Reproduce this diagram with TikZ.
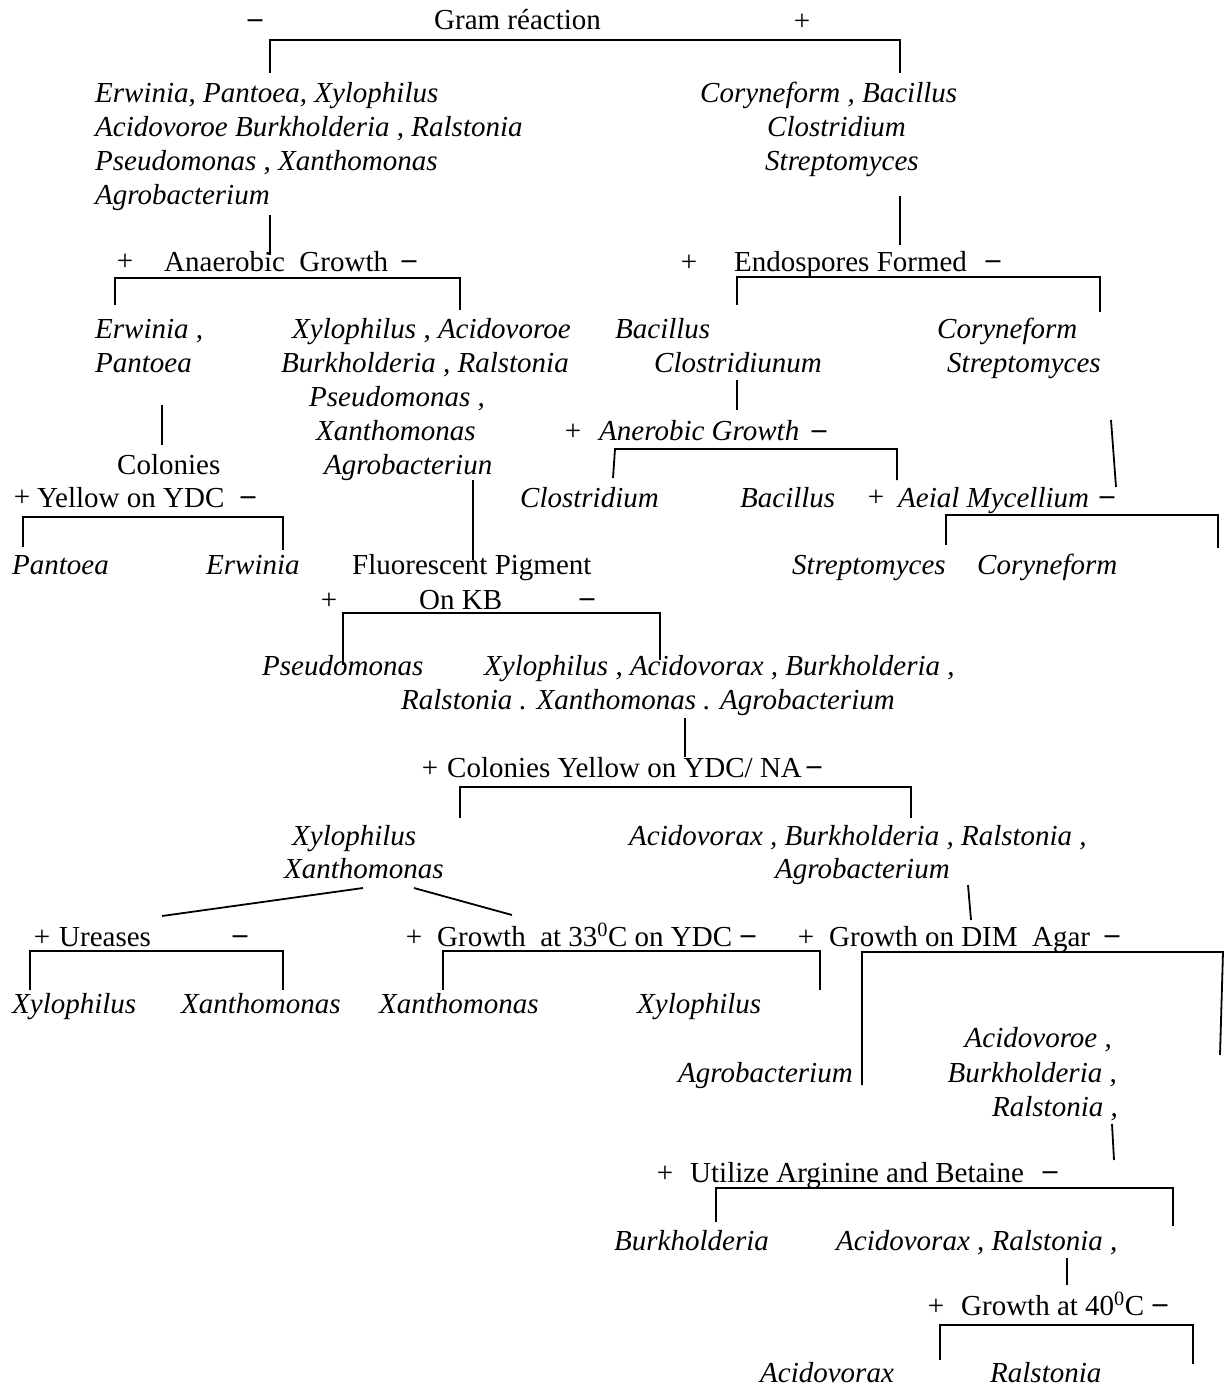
\documentclass[tikz,border=0pt]{standalone}
\usepackage{fontspec}
\setmainfont{Liberation Serif}
\newcommand\myfs{\fontsize{29}{34}\selectfont}
\begin{document}
\begin{tikzpicture}[x=1pt,y=-1pt,
  it/.style={anchor=base west,inner sep=0pt,font=\myfs\itshape},
  ite/.style={anchor=base east,inner sep=0pt,font=\myfs\itshape},
  rm/.style={anchor=base west,inner sep=0pt,font=\myfs},
  sg/.style={anchor=center,inner sep=0pt,font=\myfs},
  dsh/.style={anchor=center,inner sep=0pt,font=\myfs\bfseries},
  ln/.style={line width=1.8pt}]
\useasboundingbox (0,0) rectangle (1227,1389);
% top
\node[dsh] (m0) at (255,24) {–};
\node[rm] (gram) at (434,30) {Gram réaction};
\node[sg] (p0) at (802,22) {+};
\draw[ln] (270,73) -- (270,40) -- (900,40) -- (900,73);
% left group
\node[it] (g1a) at (95,102) {Erwinia, Pantoea, Xylophilus};
\node[it] (g1b) at (95,136) {Acidovoroe Burkholderia , Ralstonia};
\node[it] (g1c) at (95,170) {Pseudomonas , Xanthomonas};
\node[it] (g1d) at (95,204) {Agrobacterium};
\draw[ln] (270,215) -- (270,255);
% right group
\node[it] (g2a) at (700,102) {Coryneform , Bacillus};
\node[it] (g2b) at (767,136) {Clostridium};
\node[it] (g2c) at (765,170) {Streptomyces};
\draw[ln] (900,196) -- (900,245);
% anaerobic growth
\node[sg] (p1) at (125,262) {+};
\node[rm] (an) at (164,271) {Anaerobic\ \ Growth};
\node[dsh] (m1) at (409,265) {–};
\draw[ln] (115,305) -- (115,278) -- (460,278) -- (460,310);
% endospores
\node[sg] (p2) at (689,263) {+};
\node[rm] (en) at (734,271) {Endospores Formed};
\node[dsh] (m2) at (993,265) {–};
\draw[ln] (737,305) -- (737,277) -- (1100,277) -- (1100,312);
% row 329
\node[it] (ep) at (95,338) {Erwinia ,};
\node[it] (xa1) at (292,338) {Xylophilus , Acidovoroe};
\node[it] (bc1) at (615,338) {Bacillus};
\node[it] (cs1) at (937,338) {Coryneform};
\node[it] (ep2) at (95,372) {Pantoea};
\node[it] (xa2) at (281,372) {Burkholderia , Ralstonia};
\node[it] (bc2) at (654,372) {Clostridiunum};
\node[it] (cs2) at (947,372) {Streptomyces};
\node[it] (xa3) at (309,406) {Pseudomonas ,};
\node[it] (xa4) at (316,440) {Xanthomonas};
\node[it] (xa5) at (324,474) {Agrobacteriun};
\node[sg] (p3) at (573,432) {+};
\node[it] (anb) at (599,440) {Anerobic Growth};
\node[dsh] (m3) at (819,435) {–};
\node[rm] (col) at (117,474) {Colonies};
\draw[ln] (162,405) -- (162,445);
\draw[ln] (737,380) -- (737,410);
\draw[ln] (613,478) -- (615,449) -- (897,449) -- (897,480);
\draw[ln] (1111,420) -- (1116,487);
\draw[ln] (473,480) -- (473,560);
% row 498
\node[sg] (p4) at (22,498) {+};
\node[rm] (yl) at (37,507) {Yellow on YDC};
\node[dsh] (m4) at (248,501) {–};
\node[it] (cl) at (520,507) {Clostridium};
\node[it] (ba) at (740,507) {Bacillus};
\node[sg] (p5) at (876,498) {+};
\node[it] (ae) at (898,507) {Aeial Mycellium};
\node[dsh] (m5) at (1107,501) {–};
\draw[ln] (23,547) -- (23,517) -- (283,517) -- (283,550);
\draw[ln] (946,545) -- (946,515) -- (1218,515) -- (1218,548);
% row 565
\node[it] (pa) at (12,574) {Pantoea};
\node[it] (er) at (206,574) {Erwinia};
\node[rm] (fl) at (352,574) {Fluorescent Pigment};
\node[it] (st) at (792,574) {Streptomyces};
\node[it] (co) at (977,574) {Coryneform};
\node[sg] (p6) at (329,601) {+};
\node[rm] (kb) at (419,609) {On KB};
\node[dsh] (m6) at (587,603) {–};
\draw[ln] (343,665) -- (343,613) -- (660,613) -- (660,660);
% row 666
\node[it] (ps) at (262,675) {Pseudomonas};
\node[it] (xy1) at (484,675) {Xylophilus , Acidovorax , Burkholderia ,};
\node[it] (xy2) at (401,709) {Ralstonia . Xanthomonas . Agrobacterium};
\draw[ln] (685,718) -- (685,757);
\node[sg] (p7) at (430,769) {+};
\node[rm] (cy) at (447,777) {Colonies Yellow on YDC/ NA};
\node[dsh] (m7) at (814,771) {–};
\draw[ln] (460,818) -- (460,787) -- (911,787) -- (911,818);
% row 836
\node[it] (xx1) at (292,845) {Xylophilus};
\node[it] (xx2) at (284,878) {Xanthomonas};
\node[it] (ab1) at (629,845) {Acidovorax , Burkholderia , Ralstonia ,};
\node[it] (ab2) at (775,878) {Agrobacterium};
\draw[ln] (363,888) -- (162,916);
\draw[ln] (414,888) -- (512,915);
\draw[ln] (968,885) -- (971,920);
% row 937
\node[sg] (p8) at (42,938) {+};
\node[rm] (ur) at (59,946) {Ureases};
\node[dsh] (m8) at (240,940) {–};
\node[sg] (p9) at (414,938) {+};
\node[rm] (g33) at (437,946) {Growth\ \ at 33\textsuperscript{0}C on YDC};
\node[dsh] (m9) at (748,940) {–};
\node[sg] (p10) at (806,938) {+};
\node[rm] (dim) at (829,946) {Growth on DIM\ \ Agar};
\node[dsh] (m10) at (1112,940) {–};
\draw[ln] (30,990) -- (30,951) -- (283,951) -- (283,990);
\draw[ln] (443,990) -- (443,951) -- (820,951) -- (820,990);
\draw[ln] (862,1085) -- (862,952) -- (1223,952) -- (1220,1055);
% row 1004
\node[it] (u1) at (12,1013) {Xylophilus};
\node[it] (u2) at (181,1013) {Xanthomonas};
\node[it] (t1) at (379,1013) {Xanthomonas};
\node[it] (t2) at (637,1013) {Xylophilus};
% right-aligned group
\node[ite] (r1) at (1112,1047) {Acidovoroe ,};
\node[ite] (r2) at (1117,1082) {Burkholderia ,};
\node[ite] (r3) at (1118,1116) {Ralstonia ,};
\node[it] (agr) at (678,1082) {Agrobacterium};
\draw[ln] (1112,1124) -- (1114,1160);
% utilize
\node[sg] (p11) at (665,1174) {+};
\node[rm] (ut) at (690,1182) {Utilize Arginine and Betaine};
\node[dsh] (m11) at (1050,1176) {–};
\draw[ln] (716,1222) -- (716,1188) -- (1173,1188) -- (1173,1226);
\node[it] (bu) at (614,1250) {Burkholderia};
\node[it] (ar) at (836,1250) {Acidovorax , Ralstonia ,};
\draw[ln] (1067,1258) -- (1067,1285);
% growth 40
\node[sg] (p12) at (936,1307) {+};
\node[rm] (g40) at (961,1315) {Growth at 40\textsuperscript{0}C};
\node[dsh] (m12) at (1160,1309) {–};
\draw[ln] (940,1360) -- (940,1325) -- (1193,1325) -- (1193,1364);
\node[it] (ac) at (760,1382) {Acidovorax};
\node[it] (ra) at (990,1382) {Ralstonia};
\end{tikzpicture}
\end{document}
